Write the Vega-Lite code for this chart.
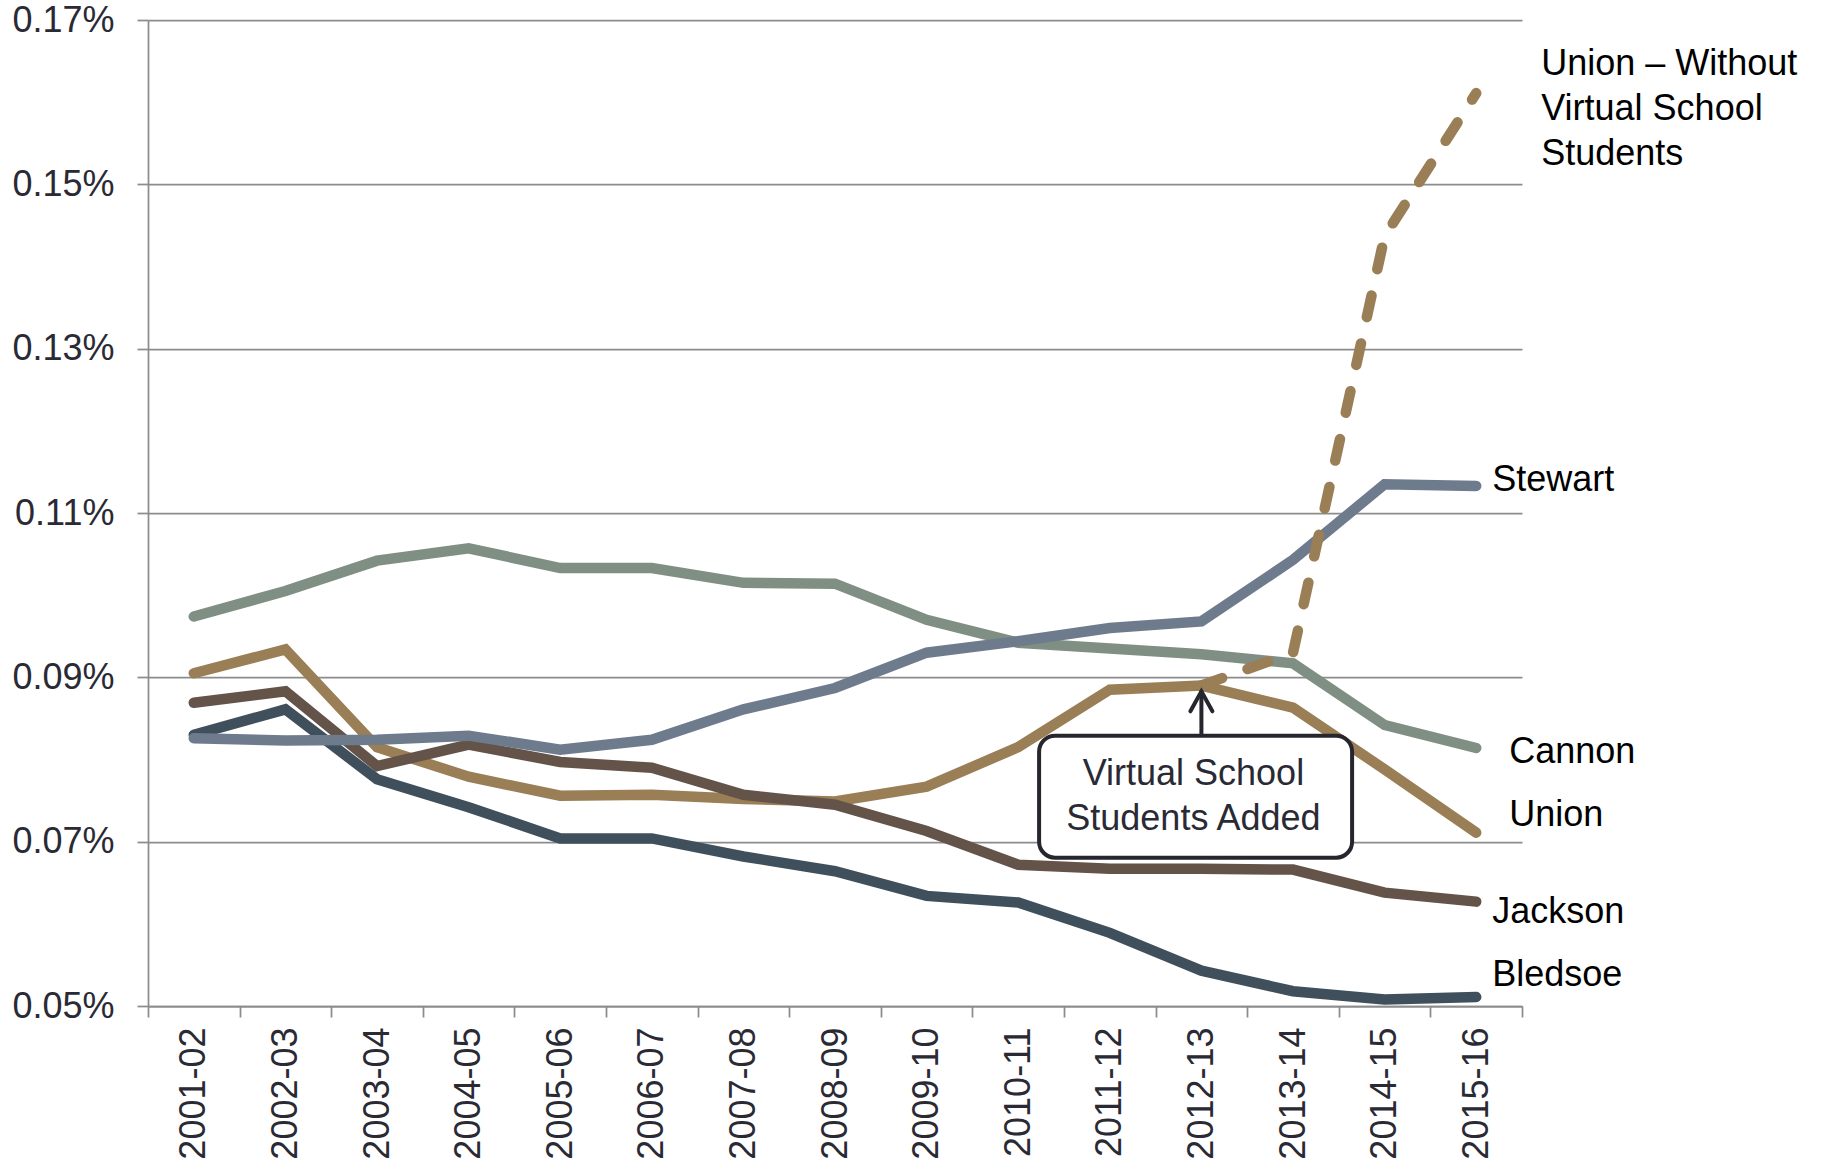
{
  "$schema": "https://vega.github.io/schema/vega-lite/v6.json",
  "width": 1374,
  "height": 986,
  "autosize": {"type": "none"},
  "padding": {"left": 148, "top": 20, "right": 309, "bottom": 162},
  "background": "white",
  "config": {
    "view": {"stroke": null},
    "font": "Liberation Sans",
    "text": {"font": "Liberation Sans"}
  },
  "datasets": {
    "rates": [
      {"series": "Cannon", "year": "2001-02", "value": 0.0974},
      {"series": "Cannon", "year": "2002-03", "value": 0.1005},
      {"series": "Cannon", "year": "2003-04", "value": 0.1042},
      {"series": "Cannon", "year": "2004-05", "value": 0.1057},
      {"series": "Cannon", "year": "2005-06", "value": 0.1033},
      {"series": "Cannon", "year": "2006-07", "value": 0.1033},
      {"series": "Cannon", "year": "2007-08", "value": 0.1015},
      {"series": "Cannon", "year": "2008-09", "value": 0.1014},
      {"series": "Cannon", "year": "2009-10", "value": 0.0970},
      {"series": "Cannon", "year": "2010-11", "value": 0.0942},
      {"series": "Cannon", "year": "2011-12", "value": 0.0935},
      {"series": "Cannon", "year": "2012-13", "value": 0.0928},
      {"series": "Cannon", "year": "2013-14", "value": 0.0917},
      {"series": "Cannon", "year": "2014-15", "value": 0.0842},
      {"series": "Cannon", "year": "2015-16", "value": 0.0814},
      {"series": "Union", "year": "2001-02", "value": 0.0905},
      {"series": "Union", "year": "2002-03", "value": 0.0934},
      {"series": "Union", "year": "2003-04", "value": 0.0815},
      {"series": "Union", "year": "2004-05", "value": 0.0779},
      {"series": "Union", "year": "2005-06", "value": 0.0756},
      {"series": "Union", "year": "2006-07", "value": 0.0757},
      {"series": "Union", "year": "2007-08", "value": 0.0752},
      {"series": "Union", "year": "2008-09", "value": 0.0749},
      {"series": "Union", "year": "2009-10", "value": 0.0767},
      {"series": "Union", "year": "2010-11", "value": 0.0815},
      {"series": "Union", "year": "2011-12", "value": 0.0885},
      {"series": "Union", "year": "2012-13", "value": 0.0890},
      {"series": "Union", "year": "2013-14", "value": 0.0863},
      {"series": "Union", "year": "2014-15", "value": 0.0788},
      {"series": "Union", "year": "2015-16", "value": 0.0711},
      {"series": "Jackson", "year": "2001-02", "value": 0.0869},
      {"series": "Jackson", "year": "2002-03", "value": 0.0883},
      {"series": "Jackson", "year": "2003-04", "value": 0.0792},
      {"series": "Jackson", "year": "2004-05", "value": 0.0818},
      {"series": "Jackson", "year": "2005-06", "value": 0.0797},
      {"series": "Jackson", "year": "2006-07", "value": 0.0790},
      {"series": "Jackson", "year": "2007-08", "value": 0.0757},
      {"series": "Jackson", "year": "2008-09", "value": 0.0745},
      {"series": "Jackson", "year": "2009-10", "value": 0.0713},
      {"series": "Jackson", "year": "2010-11", "value": 0.0672},
      {"series": "Jackson", "year": "2011-12", "value": 0.0667},
      {"series": "Jackson", "year": "2012-13", "value": 0.0667},
      {"series": "Jackson", "year": "2013-14", "value": 0.0666},
      {"series": "Jackson", "year": "2014-15", "value": 0.0638},
      {"series": "Jackson", "year": "2015-16", "value": 0.0627},
      {"series": "Bledsoe", "year": "2001-02", "value": 0.0830},
      {"series": "Bledsoe", "year": "2002-03", "value": 0.0861},
      {"series": "Bledsoe", "year": "2003-04", "value": 0.0776},
      {"series": "Bledsoe", "year": "2004-05", "value": 0.0742},
      {"series": "Bledsoe", "year": "2005-06", "value": 0.0704},
      {"series": "Bledsoe", "year": "2006-07", "value": 0.0704},
      {"series": "Bledsoe", "year": "2007-08", "value": 0.0682},
      {"series": "Bledsoe", "year": "2008-09", "value": 0.0664},
      {"series": "Bledsoe", "year": "2009-10", "value": 0.0634},
      {"series": "Bledsoe", "year": "2010-11", "value": 0.0626},
      {"series": "Bledsoe", "year": "2011-12", "value": 0.0589},
      {"series": "Bledsoe", "year": "2012-13", "value": 0.0543},
      {"series": "Bledsoe", "year": "2013-14", "value": 0.0518},
      {"series": "Bledsoe", "year": "2014-15", "value": 0.0508},
      {"series": "Bledsoe", "year": "2015-16", "value": 0.0511},
      {"series": "Stewart", "year": "2001-02", "value": 0.0826},
      {"series": "Stewart", "year": "2002-03", "value": 0.0823},
      {"series": "Stewart", "year": "2003-04", "value": 0.0824},
      {"series": "Stewart", "year": "2004-05", "value": 0.0829},
      {"series": "Stewart", "year": "2005-06", "value": 0.0812},
      {"series": "Stewart", "year": "2006-07", "value": 0.0824},
      {"series": "Stewart", "year": "2007-08", "value": 0.0861},
      {"series": "Stewart", "year": "2008-09", "value": 0.0887},
      {"series": "Stewart", "year": "2009-10", "value": 0.0930},
      {"series": "Stewart", "year": "2010-11", "value": 0.0944},
      {"series": "Stewart", "year": "2011-12", "value": 0.0960},
      {"series": "Stewart", "year": "2012-13", "value": 0.0968},
      {"series": "Stewart", "year": "2013-14", "value": 0.1043},
      {"series": "Stewart", "year": "2014-15", "value": 0.1135},
      {"series": "Stewart", "year": "2015-16", "value": 0.1133},
      {"series": "Union – Without Virtual School Students", "year": "2012-13", "value": 0.0890},
      {"series": "Union – Without Virtual School Students", "year": "2013-14", "value": 0.0930},
      {"series": "Union – Without Virtual School Students", "year": "2014-15", "value": 0.1437},
      {"series": "Union – Without Virtual School Students", "year": "2015-16", "value": 0.1611}
    ],
    "note": [
      {"text": "Virtual School Students Added", "year": "2012-13", "value": 0.0890}
    ]
  },
  "data": {"name": "rates"},
  "encoding": {
    "x": {
      "field": "year",
      "type": "ordinal",
      "bandPosition": 0.5,
      "scale": {"type": "band", "paddingInner": 0, "paddingOuter": 0},
      "axis": {
        "title": null,
        "labelAngle": -90,
        "labelFontSize": 36,
        "labelColor": "#2a2a35",
        "labelPadding": 10,
        "tickBand": "extent",
        "tickSize": 11,
        "tickWidth": 1.75,
        "tickColor": "#8c8c8c",
        "domainColor": "#8c8c8c",
        "domainWidth": 1.75,
        "grid": false
      }
    },
    "y": {
      "field": "value",
      "type": "quantitative",
      "scale": {"domain": [0.05, 0.17], "nice": false, "zero": false},
      "axis": {
        "title": null,
        "values": [0.05, 0.07, 0.09, 0.11, 0.13, 0.15, 0.17],
        "labelExpr": "format(datum.value, '.2f') + '%'",
        "labelFontSize": 36,
        "labelColor": "#2a2a35",
        "labelPadding": 23,
        "tickSize": 11,
        "tickWidth": 1.75,
        "tickColor": "#8c8c8c",
        "domainColor": "#8c8c8c",
        "domainWidth": 1.75,
        "grid": true,
        "gridColor": "#8c8c8c",
        "gridWidth": 1.75
      }
    }
  },
  "layer": [
    {
      "transform": [{"filter": "datum.series !== 'Union – Without Virtual School Students'"}],
      "mark": {"type": "line", "strokeWidth": 10.5, "strokeCap": "round"},
      "encoding": {
        "color": {
          "field": "series",
          "type": "nominal",
          "legend": null,
          "sort": null,
          "scale": {
            "domain": ["Cannon", "Union", "Jackson", "Bledsoe", "Stewart", "Union – Without Virtual School Students"],
            "range": ["#7f8f83", "#9a7e56", "#645349", "#404f5c", "#6e7b8d", "#9a7e56"]
          }
        }
      }
    },
    {
      "transform": [{"filter": "datum.series === 'Union – Without Virtual School Students'"}],
      "mark": {"type": "line", "strokeWidth": 10.5, "strokeCap": "round", "strokeDash": [22, 27], "color": "#9a7e56"},
      "encoding": {}
    },
    {
      "data": {"name": "note"},
      "mark": {
        "type": "rect",
        "fill": "white",
        "stroke": "#26262f",
        "strokeWidth": 4,
        "cornerRadius": 16,
        "width": 313
      },
      "encoding": {
        "x": {"datum": "2012-13"},
        "xOffset": {"value": 40},
        "y": {"datum": 0.0829},
        "y2": {"datum": 0.06805}
      }
    },
    {
      "data": {"name": "note"},
      "mark": {
        "type": "text",
        "text": ["Virtual School", "Students Added"],
        "fontSize": 36,
        "lineHeight": 45,
        "align": "center",
        "baseline": "middle",
        "color": "#2a2a35",
        "dx": -8,
        "dy": -22
      },
      "encoding": {
        "x": {"datum": "2012-13", "bandPosition": 0.5},
        "y": {"datum": 0.0755}
      }
    },
    {
      "data": {"name": "note"},
      "mark": {"type": "rule", "color": "#26262f", "strokeWidth": 4},
      "encoding": {
        "x": {"datum": "2012-13", "bandPosition": 0.5},
        "y": {"datum": 0.0829},
        "y2": {"datum": 0.0884}
      }
    },
    {
      "data": {"name": "note"},
      "mark": {
        "type": "point",
        "shape": "M-0.55,1L0,0L0.55,1",
        "filled": false,
        "size": 1600,
        "stroke": "#26262f",
        "strokeWidth": 4,
        "strokeCap": "round",
        "strokeJoin": "miter",
        "opacity": 1
      },
      "encoding": {
        "x": {"datum": "2012-13", "bandPosition": 0.5},
        "y": {"datum": 0.0883}
      }
    },
    {
      "transform": [{"filter": "datum.year === '2015-16' && datum.series === 'Stewart'"}],
      "mark": {"type": "text", "fontSize": 36, "align": "left", "baseline": "middle", "dx": 16, "dy": -6, "color": "black"},
      "encoding": {"text": {"field": "series"}}
    },
    {
      "transform": [{"filter": "datum.year === '2015-16' && datum.series === 'Cannon'"}],
      "mark": {"type": "text", "fontSize": 36, "align": "left", "baseline": "middle", "dx": 33, "dy": 4, "color": "black"},
      "encoding": {"text": {"field": "series"}}
    },
    {
      "transform": [{"filter": "datum.year === '2015-16' && datum.series === 'Union'"}],
      "mark": {"type": "text", "fontSize": 36, "align": "left", "baseline": "middle", "dx": 33, "dy": -18, "color": "black"},
      "encoding": {"text": {"field": "series"}}
    },
    {
      "transform": [{"filter": "datum.year === '2015-16' && datum.series === 'Jackson'"}],
      "mark": {"type": "text", "fontSize": 36, "align": "left", "baseline": "middle", "dx": 16, "dy": 10, "color": "black"},
      "encoding": {"text": {"field": "series"}}
    },
    {
      "transform": [{"filter": "datum.year === '2015-16' && datum.series === 'Bledsoe'"}],
      "mark": {"type": "text", "fontSize": 36, "align": "left", "baseline": "middle", "dx": 16, "dy": -22, "color": "black"},
      "encoding": {"text": {"field": "series"}}
    },
    {
      "transform": [{"filter": "datum.year === '2015-16' && datum.series === 'Union – Without Virtual School Students'"}],
      "mark": {
        "type": "text",
        "text": ["Union – Without", "Virtual School", "Students"],
        "fontSize": 36,
        "lineHeight": 45,
        "align": "left",
        "baseline": "middle",
        "dx": 65,
        "dy": -29,
        "color": "black"
      },
      "encoding": {}
    }
  ]
}
